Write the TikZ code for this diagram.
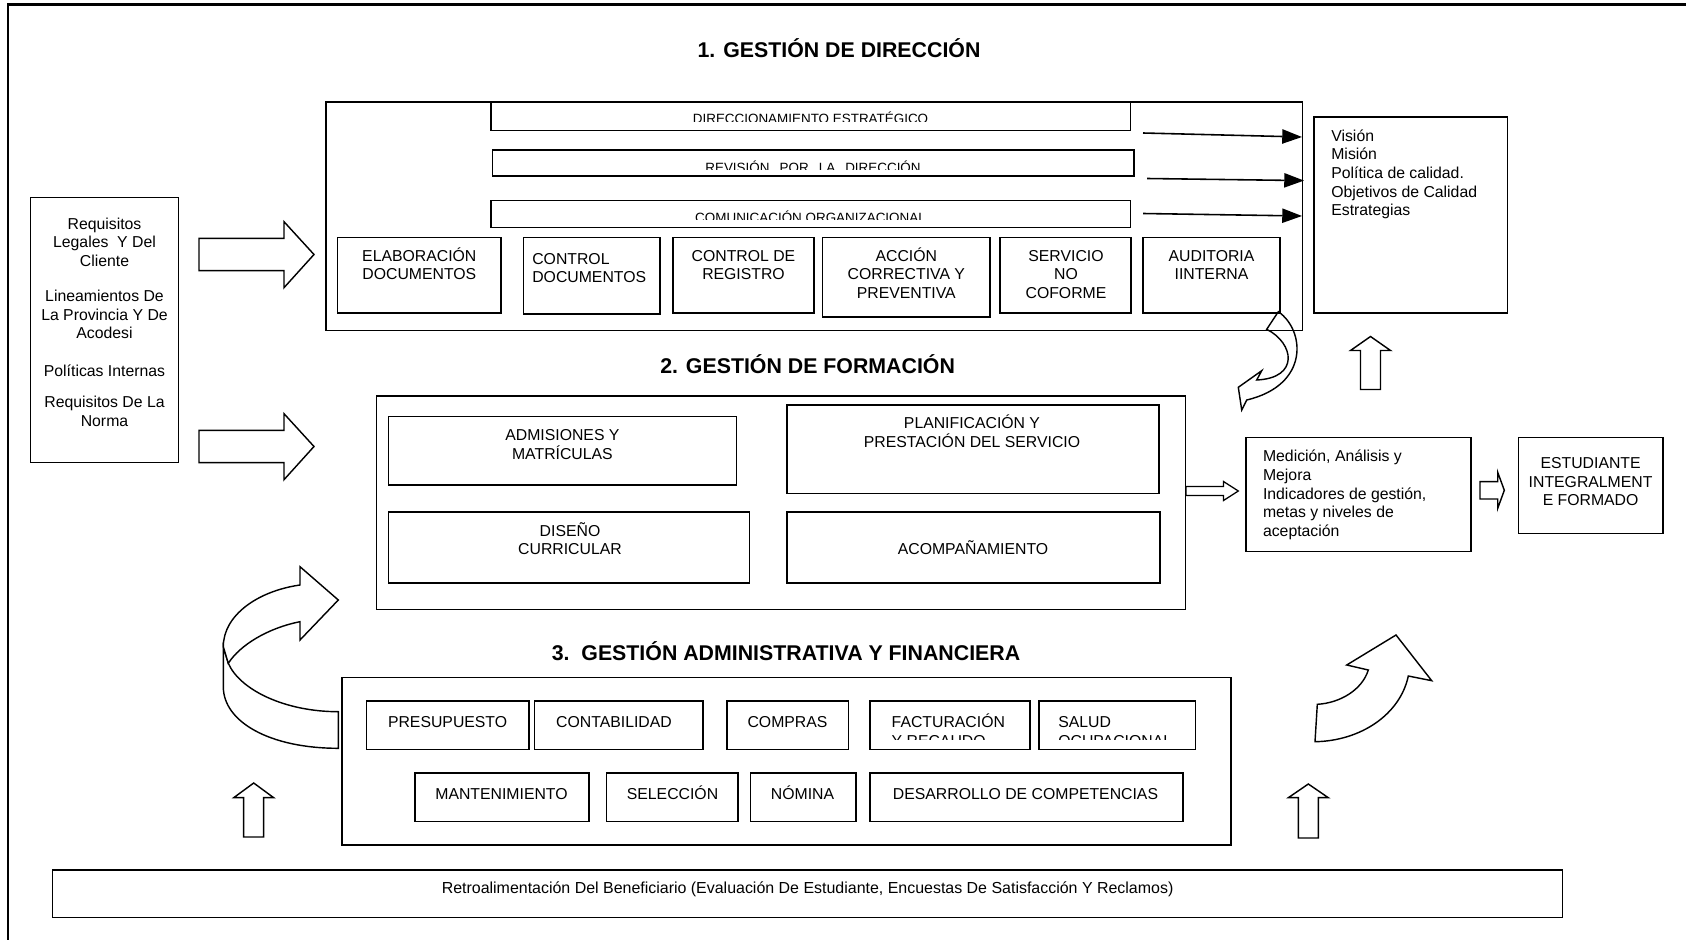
\documentclass[tikz,border=0pt]{standalone}
\usepackage{fontspec}
\setmainfont{Liberation Sans}
\usetikzlibrary{arrows.meta,fit}
\newcommand\capstrut{\rule{0pt}{10pt}}

\begin{document}
\lineskiplimit=-5pt
\begin{tikzpicture}[x=0.633pt,y=-0.633pt,
  cont/.style={draw, line width=0.8pt, inner sep=0pt, fit={#1}},
  box/.style={draw, line width=1pt, fill=white, inner sep=0pt, fit={#1}},
  txt/.style={inner sep=0pt, align=center, anchor=north,
    font=\fontsize{10}{11.8}\selectfont},
  txtl/.style={txt, align=left, anchor=north west},
  one/.style={inner sep=0pt, anchor=base, font=\fontsize{10}{11.8}\selectfont},
  bartxt/.style={inner sep=0pt, anchor=base, font=\fontsize{8.5}{10}\selectfont},
  ttl/.style={inner sep=0pt, anchor=base, font=\bfseries\fontsize{13.5}{16}\selectfont},
  blockarrow/.style={draw, line width=0.9pt, fill=white, line join=miter},
  conn/.style={line width=1pt, -{Triangle[length=12.5pt,width=9pt]}}]

\useasboundingbox (0,0) rectangle (1686,940);

% page frame (runs off the right and bottom edges)
\draw[line width=1.3pt] (1686,4.5) -- (8,4.5) -- (8,940);

% ---------- 1. Gestión de dirección ----------
\node[ttl] (t1) at (839,57.1) {1. GESTIÓN DE DIRECCIÓN};
\node[cont={(326,102) (1302.5,330.5)}] (sec1) {};

\node[box={(491,102.3) (1130.5,130.5)}] (bar1) {};
\node[box={(492.5,150) (1134,176)}] (bar2) {};
\node[box={(491,200.5) (1130.5,227.5)}] (bar3) {};
\begin{scope}
  \clip (491,100) rectangle (1130.5,121.3);
  \node[bartxt] (t-dir) at (810.5,124) {DIRECCIONAMIENTO ESTRATÉGICO};
\end{scope}
\begin{scope}
  \clip (492.5,148) rectangle (1134,169.3);
  \node[bartxt] (t-rev) at (813,172.3) {REVISIÓN\hspace{0.75em}POR\hspace{0.75em}LA\hspace{0.75em}DIRECCIÓN};
\end{scope}
\begin{scope}
  \clip (491,198) rectangle (1130.5,219.8);
  \node[bartxt] (t-com) at (810.5,222.5) {COMUNICACIÓN ORGANIZACIONAL};
\end{scope}

\node[box={(337.5,237.5) (501,313)}] (elab) {};
\node[box={(523.7,237.5) (660,314)}] (ctrl) {};
\node[box={(673,237.5) (814,313)}] (creg) {};
\node[box={(822.6,237.5) (990,317)}] (acc) {};
\node[box={(1000,237.5) (1131,313)}] (serv) {};
\node[box={(1143,237.5) (1280,313)}] (aud) {};
\node[txt] (t-elab) at (419.3,245) {\capstrut ELABORACIÓN\\DOCUMENTOS};
\node[txtl] (t-ctrl) at (532,248) {\capstrut CONTROL\\DOCUMENTOS};
\node[txt] (t-creg) at (743.5,245) {\capstrut CONTROL DE\\REGISTRO};
\node[txt] (t-acc) at (906.3,245) {\capstrut ACCIÓN\\CORRECTIVA Y\\PREVENTIVA};
\node[txt] (t-serv) at (1066,245) {\capstrut SERVICIO\\NO\\COFORME};
\node[txt] (t-aud) at (1211.5,245) {\capstrut AUDITORIA\\IINTERNA};

% strategic outputs
\node[box={(1314,117) (1507.5,313)}] (vision) {};
\node[txtl] (t-vision) at (1331,125) {\capstrut Visión\\Misión\\Política de calidad.\\Objetivos de Calidad\\Estrategias};

\coordinate (a1s) at (1143,133);   \coordinate (a1e) at (1302,137);
\coordinate (a2s) at (1147,178.5); \coordinate (a2e) at (1304,180.6);
\coordinate (a3s) at (1143,213.5); \coordinate (a3e) at (1302,216);
\draw[conn] (a1s) -- (a1e);
\draw[conn] (a2s) -- (a2e);
\draw[conn] (a3s) -- (a3e);

% inputs
\node[box={(30.5,197.5) (178.5,462.5)}] (req) {};
\node[txt] (t-req) at (104.5,213) {\capstrut Requisitos\\Legales\ \ Y Del\\Cliente\\[10.4pt]Lineamientos De\\La Provincia Y De\\Acodesi\\[12.2pt]Políticas Internas\\[8pt]Requisitos De La\\Norma};

\draw[blockarrow] (199,238.3) -- (284,238.3) -- (284,221.7) -- (314,254.5)
  -- (284,287.7) -- (284,270.7) -- (199,270.7) -- cycle;
\draw[blockarrow] (199,430.3) -- (284,430.3) -- (284,413.7) -- (314,446.5)
  -- (284,479.7) -- (284,462.7) -- (199,462.7) -- cycle;

% feedback from the audit box
\draw[blockarrow, fill=none] (1278.3,311.7) .. controls (1305,330) and (1310,385) .. (1246.7,400)
  -- (1241.7,410) -- (1238.3,387.3) -- (1261.7,370.7) -- (1256.7,380)
  .. controls (1300,378) and (1294,343) .. (1266.7,329.3) -- cycle;

% up arrow into the strategic box
\draw[blockarrow] (1360.5,389.5) -- (1360.5,350.5) -- (1350.5,350.5) -- (1370.5,336.5)
  -- (1390.5,350.5) -- (1380.5,350.5) -- (1380.5,389.5) -- cycle;

% ---------- 2. Gestión de formación ----------
\node[ttl] (t2) at (807.6,373.2) {2. GESTIÓN DE FORMACIÓN};
\node[cont={(376.5,396) (1185.5,609.5)}] (sec2) {};
\node[box={(388.5,416.5) (736.5,485)}] (adm) {};
\node[box={(787,405) (1159,493.5)}] (plan) {};
\node[box={(388.5,512) (749.5,583)}] (dis) {};
\node[box={(787,512) (1160,583)}] (aco) {};
\node[txt] (t-adm) at (562.4,424.3) {\capstrut ADMISIONES Y\\MATRÍCULAS};
\node[txt] (t-plan) at (972,412.5) {\capstrut PLANIFICACIÓN Y\\PRESTACIÓN DEL SERVICIO};
\node[txt] (t-dis) at (570,520) {\capstrut DISEÑO\\CURRICULAR};
\node[one] (t-aco) at (973,554) {ACOMPAÑAMIENTO};

\draw[blockarrow, line width=0.8pt] (1186,486.5) -- (1223.5,486.5) -- (1223.5,481.5) -- (1238.3,491)
  -- (1223.5,500.5) -- (1223.5,495.5) -- (1186,495.5) -- cycle;

\node[box={(1245.7,437.5) (1471,551.7)}] (med) {};
\node[txtl] (t-med) at (1262.7,445.6) {\capstrut Medición, Análisis y\\Mejora\\Indicadores de gestión,\\metas y niveles de\\aceptación};

\draw[blockarrow] (1480,481.7) -- (1497.7,481.7) -- (1497.7,472.3) -- (1504.3,490.3)
  -- (1497.7,508.3) -- (1497.7,499) -- (1480,499) -- cycle;

\node[box={(1518.3,437.5) (1663,533.3)}] (est) {};
\node[txt] (t-est) at (1590.6,452.6) {\capstrut ESTUDIANTE\\INTEGRALMENT\\E FORMADO};

% ---------- 3. Gestión administrativa y financiera ----------
\node[ttl] (t3) at (786,660.3) {3.\ \ GESTIÓN ADMINISTRATIVA Y FINANCIERA};
\node[cont={(342,677.4) (1231,845)}] (sec3) {};

\node[box={(366.7,701) (529,749.5)}] (pre) {};
\node[box={(534.4,701) (703,749.5)}] (cnt) {};
\node[box={(727,701) (848.4,749.5)}] (comp) {};
\node[box={(870,701) (1030,749.5)}] (fac) {};
\node[box={(1038.7,701) (1195.5,749.5)}] (sal) {};
\node[one] (t-pre) at (447.6,727.2) {PRESUPUESTO};
\node[one] (t-cnt) at (614,727.2) {CONTABILIDAD};
\node[one] (t-comp) at (787.5,727.2) {COMPRAS};
\begin{scope}
  \clip (870,701) rectangle (1030,739.5);
  \node[txtl] (t-fac) at (891.4,711.4) {\capstrut FACTURACIÓN\\Y RECAUDO};
\end{scope}
\begin{scope}
  \clip (1038.7,701) rectangle (1195.5,739.5);
  \node[txtl] (t-sal) at (1058,711.4) {\capstrut SALUD\\OCUPACIONAL};
\end{scope}

\node[box={(415,773) (589,821.5)}] (mant) {};
\node[box={(606.5,773) (738,821.5)}] (sel) {};
\node[box={(750.6,773) (856,821.5)}] (nom) {};
\node[box={(870,773) (1183,821.5)}] (des) {};
\node[one] (t-mant) at (501.5,799.3) {MANTENIMIENTO};
\node[one] (t-sel) at (672.5,799.3) {SELECCIÓN};
\node[one] (t-nom) at (802.5,799.3) {NÓMINA};
\node[one] (t-des) at (1025.5,799.3) {DESARROLLO DE COMPETENCIAS};

% circular ribbon arrow on the left (back face first)
\draw[blockarrow] (228.3,663.3) .. controls (240,690) and (285,711.7) .. (338.3,711.7)
  -- (338.3,748.3) .. controls (270,748.3) and (223.3,722) .. (223.3,686.7)
  -- (223.3,646.7) -- cycle;
\draw[blockarrow] (223.3,646.7) .. controls (223.3,615) and (258,591) .. (300,585)
  -- (300,566.7) -- (338.3,600) -- (300,640) -- (300,621.7)
  .. controls (268,628) and (240,645) .. (228.3,663.3) -- cycle;

% curved arrow on the right
\draw[blockarrow] (1315,741.7) -- (1317.3,704.3) .. controls (1340,703) and (1362,690) .. (1368.3,670)
  -- (1346.7,665) -- (1396,635) -- (1431.7,680.7) -- (1408.3,676)
  .. controls (1400,715) and (1360,741) .. (1315,741.7) -- cycle;

% up arrows from the feedback bar
\draw[blockarrow] (243.7,837) -- (243.7,797.7) -- (233.7,797.7) -- (253.7,783)
  -- (273.7,797.7) -- (263.7,797.7) -- (263.7,837) -- cycle;
\draw[blockarrow] (1298.3,838) -- (1298.3,797.7) -- (1288.3,797.7) -- (1308.3,784)
  -- (1328.3,797.7) -- (1318.3,797.7) -- (1318.3,838) -- cycle;

% feedback bar
\node[box={(52.7,870) (1562.4,917.3)}] (retro) {};
\node[one, font=\fontsize{10.1}{12}\selectfont] (t-retro) at (807.6,893.7) {Retroalimentación Del Beneficiario (Evaluación De Estudiante, Encuestas De Satisfacción Y Reclamos)};

\end{tikzpicture}
\end{document}
